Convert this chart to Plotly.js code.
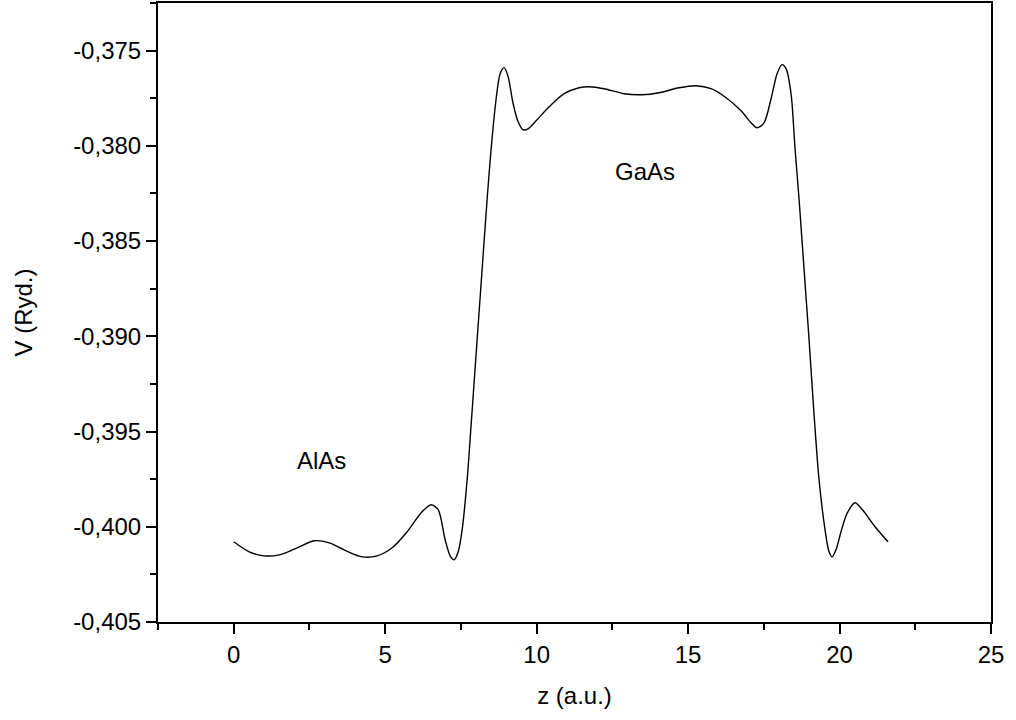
<!DOCTYPE html>
<html>
<head>
<meta charset="utf-8">
<script src="https://cdn.plot.ly/plotly-3.0.1.min.js"></script>
<style>html,body{margin:0;padding:0;background:#fff;}#chart{width:1016px;height:720px;}</style>
</head>
<body>
<div id="chart"></div>
<script>
// z positions (a.u.)
const zValues = [0.0, 0.512, 1.007, 1.502, 2.096, 2.657, 3.152, 3.713, 4.241, 4.736, 5.231, 5.726, 6.188, 6.518, 6.749, 6.980, 7.145, 7.277, 7.409, 7.541,
  7.706, 7.838, 8.036, 8.201, 8.366, 8.498, 8.663, 8.795, 8.927, 9.059, 9.224, 9.389, 9.554, 9.719, 9.983, 10.413, 10.908, 11.403, 11.733, 12.228,
  12.888, 13.482, 14.043, 14.703, 15.264, 15.759, 16.254, 16.749, 17.079, 17.277, 17.508, 17.739, 17.937, 18.102, 18.234, 18.399, 18.531, 18.663,
  18.828, 18.993, 19.158, 19.323, 19.521, 19.653, 19.752, 19.884, 20.050, 20.248, 20.512, 20.776, 21.172, 21.601];
// potential V (Ryd.)
const vValues = [-0.400789, -0.401316, -0.401526, -0.401474, -0.401105, -0.400737, -0.400842, -0.401263, -0.401579, -0.401526, -0.401105, -0.400263,
  -0.399263, -0.398842, -0.399105, -0.400684, -0.401526, -0.401737, -0.401316, -0.400158,
  -0.397526, -0.394632, -0.390158, -0.386474, -0.382789, -0.380158, -0.377526, -0.376211, -0.375895, -0.376368, -0.377789, -0.378737, -0.379158,
  -0.379105, -0.378684, -0.377947, -0.377263, -0.376947, -0.376895, -0.377000,
  -0.377263, -0.377316, -0.377211, -0.376947, -0.376842, -0.377000, -0.377474, -0.378158, -0.378789, -0.379053, -0.378789, -0.377526, -0.376211,
  -0.375737, -0.375947, -0.377263, -0.380158, -0.382789,
  -0.386474, -0.390158, -0.394105, -0.397526, -0.400158, -0.401316, -0.401579, -0.401211, -0.400250, -0.399300, -0.398737, -0.399150, -0.400000, -0.400789];

const yTickVals = [-0.405, -0.400, -0.395, -0.390, -0.385, -0.380, -0.375];
const yTickText = ["-0,405", "-0,400", "-0,395", "-0,390", "-0,385", "-0,380", "-0,375"];
const xTickVals = [0, 5, 10, 15, 20, 25];
const xTickText = ["0", "5", "10", "15", "20", "25"];

const labelTexts = ["AlAs", "GaAs"];
const labelZ = [2.89, 13.58];
const labelV = [-0.3965, -0.38137];

const font = {family: "Liberation Sans, Arial, sans-serif", size: 24, color: "#000"};

const trace = {
  x: zValues, y: vValues, type: "scatter", mode: "lines",
  line: {color: "#000", width: 1.4, shape: "spline", smoothing: 0.8},
  hoverinfo: "skip"
};

const layout = {
  width: 1016, height: 720,
  margin: {l: 158, r: 25, t: 3, b: 98},
  paper_bgcolor: "#fff", plot_bgcolor: "#fff",
  showlegend: false,
  font: font,
  xaxis: {
    range: [-2.5, 25], tickmode: "array", tickvals: xTickVals, ticktext: xTickText,
    showline: true, mirror: true, linecolor: "#000", linewidth: 2,
    ticks: "outside", ticklen: 10, tickwidth: 2, tickcolor: "#000",
    minor: {ticks: "outside", ticklen: 6, tickwidth: 2, tickcolor: "#000", tickmode: "linear", tick0: -2.5, dtick: 2.5, showgrid: false},
    showgrid: false, zeroline: false, tickfont: font,
    title: {text: "z (a.u.)", font: font, standoff: 20}
  },
  yaxis: {
    range: [-0.405, -0.3725], tickmode: "array", tickvals: yTickVals, ticktext: yTickText,
    showline: true, mirror: true, linecolor: "#000", linewidth: 2,
    ticks: "outside", ticklen: 10, tickwidth: 2, tickcolor: "#000",
    minor: {ticks: "outside", ticklen: 6, tickwidth: 2, tickcolor: "#000", tickmode: "linear", tick0: -0.405, dtick: 0.0025, showgrid: false},
    showgrid: false, zeroline: false, tickfont: font,
    title: {text: "V (Ryd.)", font: font, standoff: 34}
  },
  annotations: labelTexts.map((t, i) => ({
    x: labelZ[i], y: labelV[i], xref: "x", yref: "y", text: t, showarrow: false,
    font: font, xanchor: "center", yanchor: "middle"
  }))
};

Plotly.newPlot("chart", [trace], layout, {displayModeBar: false, staticPlot: true});
</script>
</body>
</html>
